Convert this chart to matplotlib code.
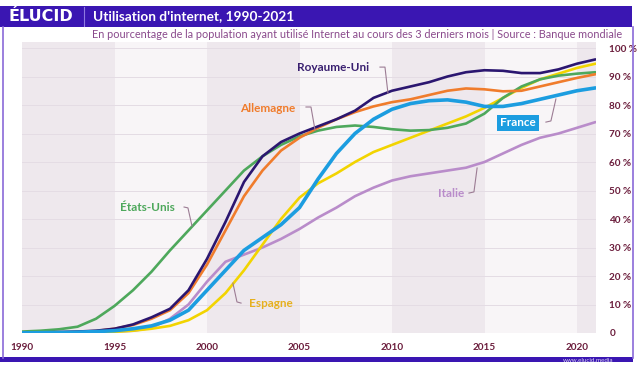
import numpy as np
import matplotlib
matplotlib.use("Agg")
import matplotlib.pyplot as plt
from matplotlib.patches import Rectangle

plt.rcParams['font.family'] = ['Lato', 'DejaVu Sans']

# données (Banque mondiale, % de la population)
annees = list(range(1990, 2022))

royaume_uni = [0.1, 0.2, 0.3, 0.5, 0.8, 1.5, 3, 5.5, 8.5, 15, 26, 39, 53, 62, 67, 70,
               72.5, 75, 78, 82.5, 85, 86.5, 88, 90, 91.5, 92.2, 92, 91.2, 91.2, 92.5, 94.5, 96]
allemagne = [0.1, 0.2, 0.3, 0.4, 0.7, 1.5, 2.8, 5, 8, 14, 24, 36, 48, 57, 64, 68.5,
             72, 75, 77.5, 79.5, 81, 82, 83.5, 85, 85.8, 85.5, 84.8, 85, 86.5, 88, 89.5, 90.8]
etats_unis = [0.5, 0.8, 1.3, 2.2, 5, 9.5, 15, 21.5, 29, 36, 43, 50, 57, 62, 66, 69,
              71, 72.3, 72.8, 72.3, 71.5, 71, 71.2, 72, 73.5, 77, 82.5, 86.5, 89, 90.3, 91, 91.5]
france = [0.05, 0.1, 0.2, 0.3, 0.5, 0.8, 1.5, 2.5, 4.5, 8, 15, 22, 29, 33.5, 38, 44,
          54, 63, 70, 75, 78.5, 80.5, 81.5, 81.8, 81, 79.5, 79.5, 80.5, 82, 83.5, 85, 86]
espagne = [0.05, 0.1, 0.1, 0.2, 0.3, 0.4, 0.8, 1.5, 2.5, 4.5, 8, 14, 22, 31, 40, 47.5,
           52.5, 56, 60, 63.5, 66, 68.5, 71, 73.5, 76, 79, 82.5, 86, 89, 91, 93, 94.5]
italie = [0.0, 0.05, 0.1, 0.2, 0.3, 0.5, 0.8, 1.8, 5, 10, 18, 25, 27.5, 30, 33, 36.5,
          40.5, 44, 48, 51, 53.5, 55, 56, 57, 58, 60, 63, 66, 68.5, 70, 72, 74]

series = [
    ("Italie", italie, "#b98cca", 1.9),
    ("Espagne", espagne, "#f2d400", 1.9),
    ("États-Unis", etats_unis, "#4ea85c", 1.9),
    ("Allemagne", allemagne, "#f07c2c", 1.9),
    ("Royaume-Uni", royaume_uni, "#2b1670", 1.9),
    ("France", france, "#1c9de0", 2.6),
]

y_ticks = list(range(0, 101, 10))
y_labels = ["0"] + [f"{v} %" for v in y_ticks[1:]]
x_ticks = [1990, 1995, 2000, 2005, 2010, 2015, 2020]

violet = "#3a16b2"
bordeaux = "#6b1d3c"

fig = plt.figure(figsize=(6.4, 3.65), dpi=100)
fig.patch.set_facecolor("white")

# cadre elucid
fig.patches.append(Rectangle((0, 1 - 27 / 365), 632 / 640, 21 / 365, transform=fig.transFigure,
                             facecolor=violet, edgecolor="none", zorder=0))
fig.patches.append(Rectangle((0, 1 - 362 / 365), 633 / 640, 5 / 365, transform=fig.transFigure,
                             facecolor=violet, edgecolor="none", zorder=0))
fig.lines.append(plt.Line2D([3 / 640, 3 / 640], [1 - 358 / 365, 1 - 27 / 365], transform=fig.transFigure,
                            color="#8a6ad8", lw=1.2))
fig.lines.append(plt.Line2D([633 / 640, 633 / 640], [1 - 358 / 365, 1 - 27 / 365], transform=fig.transFigure,
                            color="#8a6ad8", lw=1.2))
fig.lines.append(plt.Line2D([84 / 640, 84 / 640], [1 - 26 / 365, 1 - 7 / 365], transform=fig.transFigure,
                            color="#8f7ae0", lw=0.8))

fig.text(9 / 640, 1 - 16.5 / 365, "ÉLUCID", color="white", fontsize=11.5, fontweight="bold",
         family=["DejaVu Sans"], va="center", ha="left")
fig.text(93 / 640, 1 - 16.5 / 365, "Utilisation d'internet, 1990-2021", color="white", fontsize=9.8,
         fontweight="bold", va="center", ha="left")
fig.text(92 / 640, 1 - 35 / 365,
         "En pourcentage de la population ayant utilisé Internet au cours des 3 derniers mois | Source : Banque mondiale",
         color="#8a4a8c", fontsize=7.8, va="center", ha="left")
fig.text(588 / 640, 1 - 360 / 365, "www.elucid.media", color="#ddd6f2", fontsize=4.5,
         va="center", ha="center")

ax = fig.add_axes([22 / 640, 1 - 333 / 365, 573.5 / 640, 290.7 / 365])
ax.set_xlim(1990, 2021)
ax.set_ylim(0, 102)

# bandes verticales alternées
for start in [1990, 2000, 2010, 2020]:
    ax.axvspan(start, min(start + 5, 2021), color="#eee8ed", lw=0, zorder=0)
for start in [1995, 2005, 2015]:
    ax.axvspan(start, start + 5, color="#f8f5f7", lw=0, zorder=0)
for v in y_ticks:
    ax.axhline(v, color="#e4dce4", lw=0.7, zorder=1)

for nom, vals, couleur, lw in series:
    ax.plot(annees, vals, color=couleur, lw=lw, solid_joinstyle="round",
            solid_capstyle="round", zorder=3)

for s in ax.spines.values():
    s.set_visible(False)
ax.yaxis.tick_right()
ax.set_yticks(y_ticks)
ax.set_yticklabels(y_labels)
ax.set_xticks(x_ticks)
ax.tick_params(axis="both", length=0, colors=bordeaux, labelsize=7.2)
ax.tick_params(axis="y", pad=10)
ax.tick_params(axis="x", pad=7)
for lab in ax.get_xticklabels() + ax.get_yticklabels():
    lab.set_fontweight("bold")

# étiquettes avec traits de rappel
guide = "#9c7c94"
etiquettes = [
    ("Royaume-Uni", 2006.8, 93.0, "#3a2070", [(2009.35, 2009.62, 2009.78), (93.3, 93.3, 84.2)]),
    ("Allemagne", 2003.3, 78.9, "#f07c2c", [(2005.35, 2005.62, 2005.84), (79.3, 79.3, 71.2)]),
    ("États-Unis", 1996.76, 43.9, "#4ea85c", [(1998.76, 1998.97, 1999.19), (44.2, 43.9, 37.5)]),
    ("Espagne", 2003.46, 10.2, "#e6b01e", [(2001.84, 2001.62, 2001.4), (10.5, 10.9, 17.5)]),
    ("Italie", 2013.19, 48.8, "#b98cca", [(2014.16, 2014.43, 2014.6), (49.1, 49.5, 57.9)]),
]
for txt, x, y, c, (lx, ly) in etiquettes:
    ax.text(x, y, txt, color=c, fontsize=8.5, fontweight="bold", ha="center", va="center", zorder=5)
    ax.plot(lx, ly, color=guide, lw=0.8, zorder=4)

ax.text(2016.81, 73.7, "France", color="white", fontsize=8.5, fontweight="bold", ha="center",
        va="center", zorder=5,
        bbox=dict(boxstyle="square,pad=0.25", facecolor="#1c9de0", edgecolor="none"))
ax.plot((2018.32, 2018.59, 2018.86), (74.0, 74.4, 82.1), color=guide, lw=0.8, zorder=4)

fig.savefig("out.png", dpi=100, facecolor="white")
